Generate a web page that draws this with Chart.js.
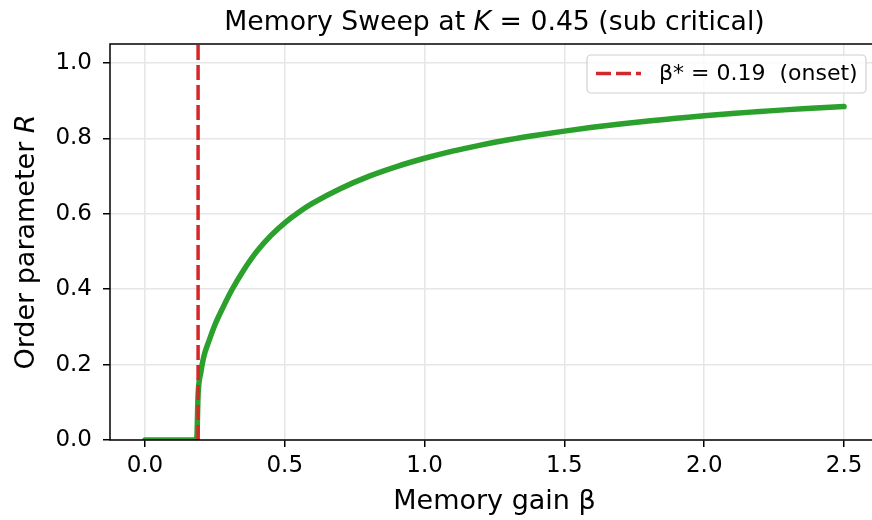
<!DOCTYPE html>
<html lang="en">
<head>
<meta charset="UTF-8">
<title>Memory Sweep</title>
<script src="https://cdn.jsdelivr.net/npm/chart.js"></script>
<style>
    html, body { margin: 0; padding: 0; background: #fff; overflow: hidden; }
    #wrap { width: 872px; height: 520px; overflow: hidden; }
</style>
</head>
<body>
<div id="wrap"><canvas id="sweep" width="900" height="520"></canvas></div>
<script>
// values
const beta = [0, 0.05, 0.10, 0.15, 0.185, 0.19, 0.20, 0.21, 0.23, 0.25, 0.28, 0.31, 0.35, 0.40,
    0.45, 0.50, 0.55, 0.60, 0.70, 0.80, 0.90, 1.00, 1.10, 1.20, 1.30, 1.40, 1.50, 1.60, 1.70,
    1.80, 1.90, 2.00, 2.10, 2.20, 2.30, 2.40, 2.50];
const orderR = [0, 0, 0, 0, 0, 0.12, 0.18, 0.22, 0.265, 0.305, 0.353, 0.397, 0.447, 0.50,
    0.542, 0.576, 0.604, 0.628, 0.667, 0.699, 0.725, 0.747, 0.766, 0.782, 0.796, 0.808, 0.819, 0.829, 0.838,
    0.846, 0.853, 0.860, 0.866, 0.871, 0.876, 0.880, 0.884];
const betaStar = 0.19;
const xTicks = [0, 0.5, 1.0, 1.5, 2.0, 2.5];
const yTicks = [0, 0.2, 0.4, 0.6, 0.8, 1.0];
const xRange = [-0.125, 2.625];
const yRange = [0, 1.05];

const FONT = "'DejaVu Sans', sans-serif";

function mixedText(ctx, parts, x, y, size) {
    let total = 0;
    parts.forEach(p => {
        ctx.font = (p.it ? 'italic ' : '') + size + 'px ' + FONT;
        p.w = ctx.measureText(p.t).width;
        total += p.w;
    });
    let cx = x - total / 2;
    parts.forEach(p => {
        ctx.font = (p.it ? 'italic ' : '') + size + 'px ' + FONT;
        ctx.fillText(p.t, cx, y);
        cx += p.w;
    });
}

// spines, titles and the legend box, drawn the matplotlib way
const mplDecor = {
    id: 'mplDecor',
    afterDraw(chart) {
        const ctx = chart.ctx;
        const a = chart.chartArea;
        const midX = (a.left + a.right) / 2;
        ctx.save();
        ctx.strokeStyle = '#000';
        ctx.lineWidth = 1.5;
        ctx.strokeRect(a.left, a.top, a.right - a.left, a.bottom - a.top);

        ctx.fillStyle = '#000';
        ctx.textAlign = 'left';
        ctx.textBaseline = 'alphabetic';
        mixedText(ctx, [{ t: 'Memory Sweep at ' }, { t: 'K', it: true }, { t: ' = 0.45 (sub critical)' }], midX, 30, 26.7);
        mixedText(ctx, [{ t: 'Memory gain β' }], midX, 509, 27);

        ctx.save();
        ctx.translate(34, (a.top + a.bottom) / 2);
        ctx.rotate(-Math.PI / 2);
        mixedText(ctx, [{ t: 'Order parameter ' }, { t: 'R', it: true }], 0, 0, 27);
        ctx.restore();

        // legend
        const lx = 587, ly = 55, lw = 279, lh = 38;
        ctx.beginPath();
        ctx.roundRect(lx, ly, lw, lh, 4);
        ctx.fillStyle = 'rgba(255,255,255,0.8)';
        ctx.fill();
        ctx.strokeStyle = '#d0d0d0';
        ctx.lineWidth = 1.2;
        ctx.stroke();

        ctx.beginPath();
        ctx.setLineDash([15, 5]);
        ctx.strokeStyle = '#d62728';
        ctx.lineWidth = 3.5;
        ctx.moveTo(596, 73.5);
        ctx.lineTo(641, 73.5);
        ctx.stroke();
        ctx.setLineDash([]);

        ctx.fillStyle = '#000';
        ctx.font = '22px ' + FONT;
        ctx.textBaseline = 'middle';
        ctx.fillText('β* = ' + betaStar.toFixed(2) + '  (onset)', 659, 74);
        ctx.restore();
    }
};

new Chart(document.getElementById('sweep'), {
    type: 'line',
    data: {
        datasets: [
            {
                label: 'onset',
                data: [{ x: betaStar, y: yRange[0] }, { x: betaStar, y: yRange[1] }],
                borderColor: '#d62728',
                borderWidth: 3.5,
                borderDash: [15, 5],
                borderCapStyle: 'butt',
                pointRadius: 0
            },
            {
                label: 'R',
                data: beta.map((b, i) => ({ x: b, y: orderR[i] })),
                borderColor: '#2ca02c',
                borderWidth: 5.5,
                borderCapStyle: 'round',
                borderJoinStyle: 'round',
                cubicInterpolationMode: 'monotone',
                pointRadius: 0
            }
        ]
    },
    options: {
        responsive: false,
        animation: false,
        layout: { padding: { top: 44, left: 0, right: 21, bottom: 0 } },
        plugins: { legend: { display: false }, title: { display: false }, tooltip: { enabled: false } },
        scales: {
            x: {
                type: 'linear',
                min: xRange[0],
                max: xRange[1],
                afterBuildTicks: s => { s.ticks = xTicks.map(v => ({ value: v })); },
                afterFit: s => { s.height = 80; },
                border: { display: false },
                grid: { color: '#e6e6e6', lineWidth: 1.5, tickLength: 7, tickColor: '#000', tickWidth: 1.5 },
                ticks: {
                    font: { family: FONT, size: 23 },
                    color: '#000',
                    padding: 5,
                    maxRotation: 0,
                    callback: v => v.toFixed(1)
                }
            },
            y: {
                type: 'linear',
                min: yRange[0],
                max: yRange[1],
                afterBuildTicks: s => { s.ticks = yTicks.map(v => ({ value: v })); },
                afterFit: s => { s.width = 110; },
                border: { display: false },
                grid: { color: '#e6e6e6', lineWidth: 1.5, tickLength: 7, tickColor: '#000', tickWidth: 1.5 },
                ticks: {
                    font: { family: FONT, size: 23 },
                    color: '#000',
                    padding: 11,
                    callback: v => v.toFixed(1)
                }
            }
        }
    },
    plugins: [mplDecor]
});
</script>
</body>
</html>
